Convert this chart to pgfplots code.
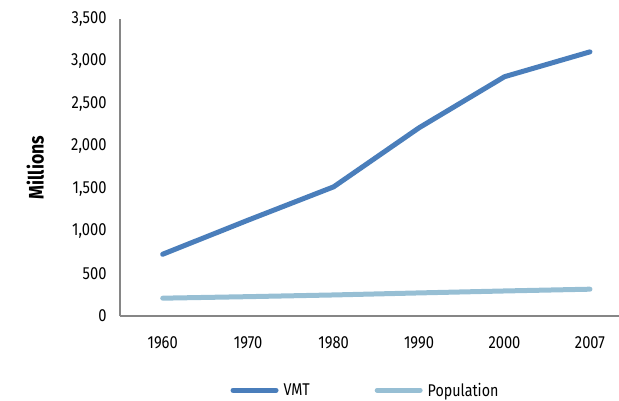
\documentclass[border=0pt]{standalone}
\usepackage{pgfplots}
\pgfplotsset{compat=1.18}
\usepackage{fontspec}
\setmainfont{Fira Sans}[FakeStretch=0.84]
\definecolor{vmt}{HTML}{4A7EBB}
\definecolor{pop}{HTML}{97BFD4}
\definecolor{ax}{HTML}{868686}
\begin{document}
\begin{tikzpicture}
\useasboundingbox (-120pt,-84pt) rectangle (499pt,316pt);
\begin{axis}[
  scale only axis, width=499pt, height=297pt,
  xmin=-0.5, xmax=5.34, ymin=0, ymax=3500,
  axis lines*=left,
  axis line style={ax, line width=2pt},
  x axis line style={-}, y axis line style={-},
  xtick={0,1,2,3,4,5},
  xticklabels={1960,1970,1980,1990,2000,2007},
  ytick={0,500,1000,1500,2000,2500,3000,3500},
  major tick length=0pt,
  tick label style={font=\fontsize{17.5}{19}\selectfont, black},
  /pgf/number format/.cd, 1000 sep={,}, assume math mode=true,
  /pgfplots/.cd,
  yticklabel style={xshift=-10pt},
  xticklabel style={yshift=-17pt},
  ylabel={\bfseries Millions},
  ylabel style={font=\fontsize{21}{23}\selectfont, at={(axis description cs:-0.17,0.5)}, anchor=center},
  legend columns=2,
  legend style={draw=none, fill=none, at={(axis description cs:0.495,-0.25)}, anchor=center,
    font=\fontsize{17}{19}\selectfont,
    /tikz/every even column/.append style={column sep=60pt},
    nodes={inner xsep=5pt}},
  legend image code/.code={\draw[#1] (0pt,0pt) -- (43pt,0pt);},
  clip=false,
]
\addplot[vmt, line width=5pt, line cap=round, line join=round] coordinates {(0,728) (1,1130) (2,1522) (3,2218) (4,2820) (5,3113)};
\addlegendentry{VMT}
\addplot[pop, line width=5pt, line cap=round, line join=round] coordinates {(0,210) (1,228) (2,248) (3,272) (4,295) (5,316)};
\addlegendentry{Population}
\end{axis}
\end{tikzpicture}
\end{document}
